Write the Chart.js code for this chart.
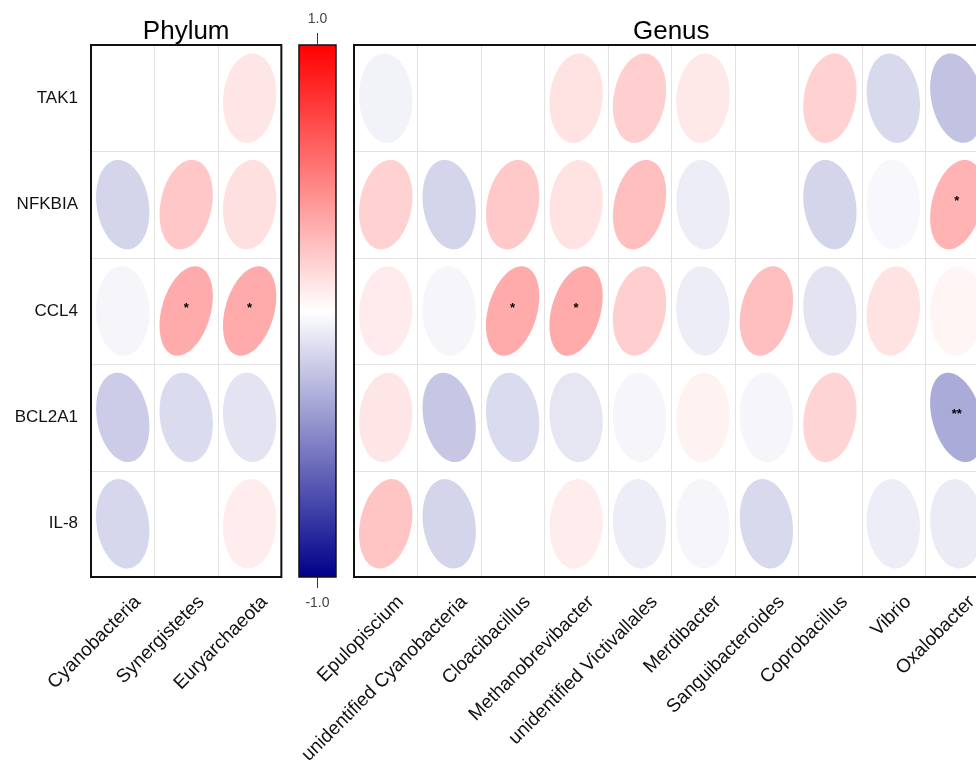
<!DOCTYPE html>
<html>
<head>
<meta charset="utf-8">
<script src="https://cdn.jsdelivr.net/npm/chart.js@4.4.1/dist/chart.umd.min.js"></script>
<style>
  html, body { margin: 0; padding: 0; background: #fff; overflow: hidden; width: 976px; height: 776px; }
  #wrap { position: absolute; left: 0; top: 0; width: 1000px; height: 776px; }
</style>
</head>
<body>
<div id="wrap"><canvas id="c"></canvas></div>
<script>
// Host genes (rows)
const genes = ['TAK1', 'NFKBIA', 'CCL4', 'BCL2A1', 'IL-8'];
// Taxa (columns)
const phyla = ['Cyanobacteria', 'Synergistetes', 'Euryarchaeota'];
const genera = ['Epulopiscium', 'unidentified Cyanobacteria', 'Cloacibacillus', 'Methanobrevibacter',
  'unidentified Victivallales', 'Merdibacter', 'Sanguibacteroides', 'Coprobacillus', 'Vibrio', 'Oxalobacter'];

// Spearman correlations, one row per gene
const phylumCorr = [
  [0.00, 0.00, 0.10],
  [-0.17, 0.22, 0.12],
  [-0.04, 0.33, 0.33],
  [-0.20, -0.14, -0.11],
  [-0.16, 0.00, 0.07]
];
const genusCorr = [
  [-0.05, 0.00, 0.00, 0.11, 0.19, 0.09, 0.00, 0.18, -0.15, -0.24],
  [0.18, -0.17, 0.21, 0.11, 0.25, -0.07, 0.00, -0.17, -0.03, 0.30],
  [0.08, -0.04, 0.33, 0.33, 0.19, -0.07, 0.25, -0.11, 0.11, 0.04],
  [0.10, -0.22, -0.14, -0.10, -0.04, 0.05, -0.04, 0.17, 0.00, -0.33],
  [0.23, -0.17, 0.00, 0.07, -0.07, -0.04, -0.15, 0.00, -0.07, -0.08]
];
// Significance marks
const phylumSig = [
  ['', '', ''],
  ['', '', ''],
  ['', '*', '*'],
  ['', '', ''],
  ['', '', '']
];
const genusSig = [
  ['', '', '', '', '', '', '', '', '', ''],
  ['', '', '', '', '', '', '', '', '', '*'],
  ['', '', '*', '*', '', '', '', '', '', ''],
  ['', '', '', '', '', '', '', '', '', '**'],
  ['', '', '', '', '', '', '', '', '', '']
];
const colorbarTicks = ['-1.0', '1.0'];
const panelTitles = ['Phylum', 'Genus'];

// x layout in column units
const GENUS_OFFSET = 4.145;
const X_MAX = GENUS_OFFSET + genera.length;
const CBAR_X0 = 3.278, CBAR_X1 = 3.861;

const xPositions = phyla.map((_, i) => i + 0.5).concat(genera.map((_, i) => GENUS_OFFSET + i + 0.5));
const xLabels = phyla.concat(genera);

function corrColor(r) {
  const t = Math.min(1, Math.abs(r));
  if (r >= 0) {
    const v = Math.round(255 * (1 - t));
    return `rgb(255,${v},${v})`;
  }
  const v = Math.round(255 * (1 - t));
  const b = Math.round(255 - (255 - 139) * t);
  return `rgb(${v},${v},${b})`;
}

const points = [];
genes.forEach((g, ri) => {
  phyla.forEach((p, ci) => points.push({ x: ci + 0.5, y: ri + 0.5, r: phylumCorr[ri][ci], sig: phylumSig[ri][ci] }));
  genera.forEach((p, ci) => points.push({ x: GENUS_OFFSET + ci + 0.5, y: ri + 0.5, r: genusCorr[ri][ci], sig: genusSig[ri][ci] }));
});

const FONT = "'Liberation Sans', Arial, Helvetica, sans-serif";

const corrPlugin = {
  id: 'corrEllipses',
  beforeDatasetsDraw(chart) {
    const { ctx, scales: { x, y } } = chart;
    const top = y.getPixelForValue(0), bottom = y.getPixelForValue(genes.length);
    ctx.save();
    ctx.strokeStyle = '#e2e2e2';
    ctx.lineWidth = 1;
    const panels = [[0, phyla.length], [GENUS_OFFSET, genera.length]];
    panels.forEach(([x0, n]) => {
      const left = x.getPixelForValue(x0), right = x.getPixelForValue(x0 + n);
      for (let i = 1; i < n; i++) {
        const px = Math.round(x.getPixelForValue(x0 + i)) + 0.5;
        ctx.beginPath(); ctx.moveTo(px, top); ctx.lineTo(px, bottom); ctx.stroke();
      }
      for (let j = 1; j < genes.length; j++) {
        const py = Math.round(y.getPixelForValue(j)) + 0.5;
        ctx.beginPath(); ctx.moveTo(left, py); ctx.lineTo(right, py); ctx.stroke();
      }
    });
    ctx.restore();
  },
  afterDatasetsDraw(chart) {
    const { ctx, scales: { x, y } } = chart;
    const meta = chart.getDatasetMeta(0);
    const cw = x.getPixelForValue(1) - x.getPixelForValue(0);
    const ch = Math.abs(y.getPixelForValue(1) - y.getPixelForValue(0));
    const S = 0.84;
    ctx.save();
    meta.data.forEach((el, i) => {
      const d = points[i];
      const a = Math.acos(Math.max(-1, Math.min(1, d.r)));
      ctx.beginPath();
      const N = 100;
      for (let k = 0; k <= N; k++) {
        const t = (k / N) * Math.PI * 2;
        const ex = Math.cos(t + a / 2) / 2 * S;
        const ey = Math.cos(t - a / 2) / 2 * S;
        const px = el.x + ex * cw, py = el.y - ey * ch;
        if (k === 0) ctx.moveTo(px, py); else ctx.lineTo(px, py);
      }
      ctx.closePath();
      ctx.fillStyle = corrColor(d.r);
      ctx.fill();
      if (d.sig) {
        ctx.fillStyle = '#000';
        ctx.font = `bold 13px ${FONT}`;
        ctx.textAlign = 'center';
        ctx.textBaseline = 'middle';
        ctx.fillText(d.sig, el.x, el.y - 3);
      }
    });

    // panel frames and titles
    const top = y.getPixelForValue(0), bottom = y.getPixelForValue(genes.length);
    ctx.strokeStyle = '#111';
    ctx.lineWidth = 2;
    const panels = [[0, phyla.length], [GENUS_OFFSET, genera.length]];
    panels.forEach(([x0, n], pi) => {
      const left = x.getPixelForValue(x0), right = x.getPixelForValue(x0 + n);
      ctx.strokeRect(left, top, right - left, bottom - top);
      ctx.fillStyle = '#000';
      ctx.font = `26px ${FONT}`;
      ctx.textAlign = 'center';
      ctx.textBaseline = 'alphabetic';
      ctx.fillText(panelTitles[pi], (left + right) / 2, top - 6);
    });

    // colour key
    const cl = x.getPixelForValue(CBAR_X0), cr = x.getPixelForValue(CBAR_X1);
    const grad = ctx.createLinearGradient(0, top, 0, bottom);
    grad.addColorStop(0, corrColor(1));
    grad.addColorStop(0.5, corrColor(0));
    grad.addColorStop(1, corrColor(-1));
    ctx.fillStyle = grad;
    ctx.fillRect(cl, top, cr - cl, bottom - top);
    ctx.lineWidth = 1.5;
    ctx.strokeStyle = '#111';
    ctx.strokeRect(cl, top, cr - cl, bottom - top);
    const cx = (cl + cr) / 2;
    ctx.lineWidth = 1;
    ctx.strokeStyle = '#333';
    ctx.beginPath();
    ctx.moveTo(cx, top - 12); ctx.lineTo(cx, top);
    ctx.moveTo(cx, bottom); ctx.lineTo(cx, bottom + 11);
    ctx.stroke();
    ctx.fillStyle = '#444';
    ctx.font = `14px ${FONT}`;
    ctx.textAlign = 'center';
    ctx.textBaseline = 'middle';
    ctx.fillText(colorbarTicks[1], cx, top - 26);
    ctx.fillText(colorbarTicks[0], cx, bottom + 26);
    ctx.restore();
  }
};

new Chart(document.getElementById('c'), {
  type: 'scatter',
  data: {
    datasets: [{
      data: points.map(p => ({ x: p.x, y: p.y })),
      pointRadius: 0,
      pointHoverRadius: 0
    }]
  },
  options: {
    responsive: true,
    maintainAspectRatio: false,
    animation: false,
    events: [],
    layout: { padding: { top: 45, right: 11.5, bottom: 0, left: 0 } },
    plugins: { legend: { display: false }, tooltip: { enabled: false } },
    scales: {
      x: {
        type: 'linear',
        min: 0,
        max: X_MAX,
        afterBuildTicks: (s) => { s.ticks = xPositions.map(v => ({ value: v })); },
        afterFit: (s) => { s.height = 199; },
        grid: { display: false, drawTicks: false },
        border: { display: false },
        ticks: {
          autoSkip: false,
          minRotation: 45,
          maxRotation: 45,
          padding: 14,
          labelOffset: 15,
          color: '#111',
          font: { family: FONT, size: 19 },
          callback: (v, i) => xLabels[i]
        }
      },
      y: {
        type: 'linear',
        min: 0,
        max: genes.length,
        reverse: true,
        afterBuildTicks: (s) => { s.ticks = genes.map((_, i) => ({ value: i + 0.5 })); },
        afterFit: (s) => { s.width = 91; },
        grid: { display: false, drawTicks: false },
        border: { display: false },
        ticks: {
          autoSkip: false,
          padding: 13,
          color: '#111',
          font: { family: FONT, size: 17 },
          callback: (v, i) => genes[i]
        }
      }
    }
  },
  plugins: [corrPlugin]
});
</script>
</body>
</html>
